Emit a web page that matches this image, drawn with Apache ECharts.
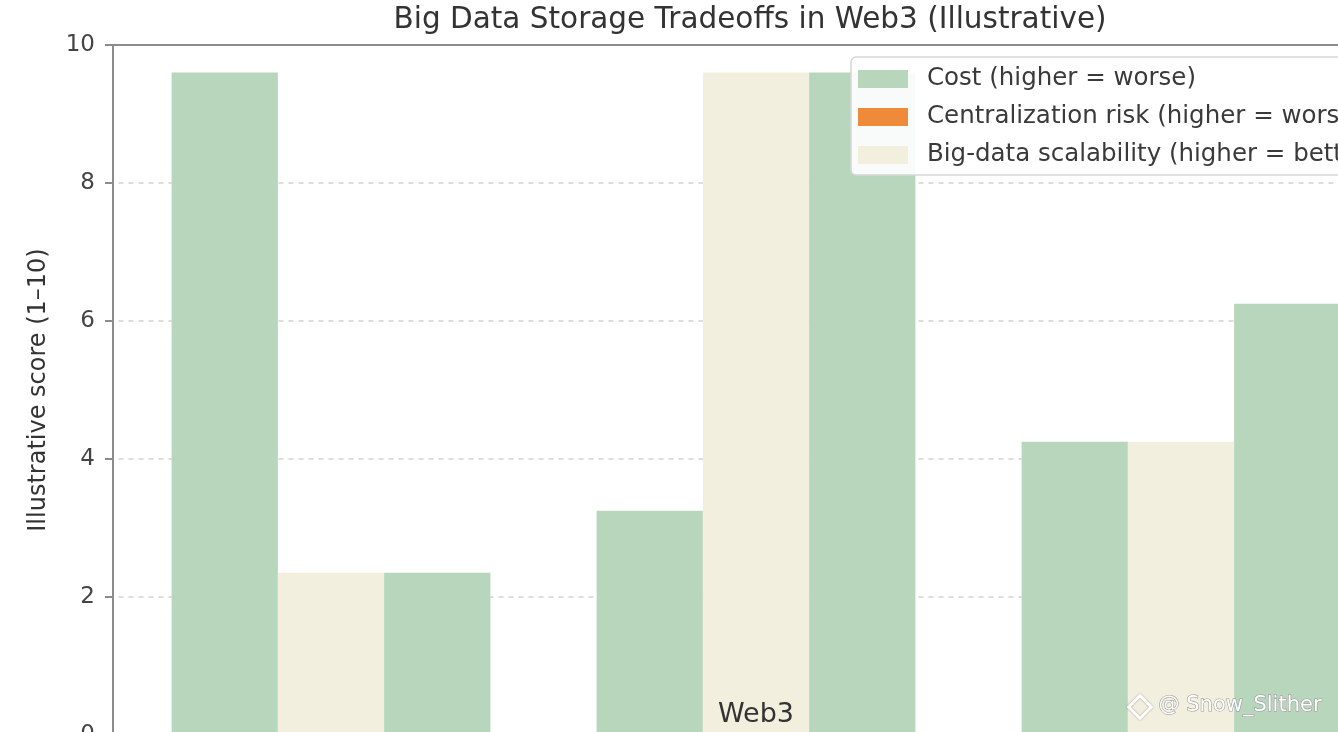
<!DOCTYPE html>
<html>
<head>
<meta charset="utf-8">
<script src="https://cdn.jsdelivr.net/npm/echarts@6/dist/echarts.min.js"></script>
<style>html,body{margin:0;padding:0;background:#fff;}#c{width:1338px;height:732px;}</style>
</head>
<body>
<div id="c"></div>
<script>
var categories = ['', 'Web3', ''];
var seriesNames = ['Cost (higher = worse)', 'Centralization risk (higher = worse)', 'Big-data scalability (higher = better)'];
var costValues = [9.6, 3.25, 4.25];
var centralizationValues = [2.35, 9.6, 4.25];
var scalabilityValues = [2.35, 9.6, 6.25];
var yTicks = [0, 2, 4, 6, 8, 10];

var GREEN = '#b7d6bc', CREAM = '#f3efdf', ORANGE = '#ee8a3a';
var FONT = 'DejaVu Sans';
var chart = echarts.init(document.getElementById('c'), null, {renderer: 'canvas'});
chart.setOption({
  backgroundColor: '#fff',
  animation: false,
  title: {
    text: 'Big Data Storage Tradeoffs in Web3 (Illustrative)',
    left: 745, top: 0, textAlign: 'center',
    textStyle: {fontFamily: FONT, fontSize: 29.5, fontWeight: 'normal', color: '#333'}
  },
  legend: {
    left: 851, top: 57, orient: 'vertical',
    padding: [9, 10, 7, 7],
    itemWidth: 50, itemHeight: 18, itemGap: 12, icon: 'rect',
    backgroundColor: 'rgba(255,255,255,0.9)', borderColor: '#d6d6d6', borderWidth: 1.5, borderRadius: 5,
    textStyle: {fontFamily: FONT, fontSize: 24.5, color: '#3a3a3a', lineHeight: 26, padding: [0, 0, 0, 14]},
    data: [
      {name: seriesNames[0], itemStyle: {color: GREEN}},
      {name: seriesNames[1], itemStyle: {color: ORANGE}},
      {name: seriesNames[2], itemStyle: {color: CREAM}}
    ]
  },
  grid: {left: 118.5, top: 45, width: 1275, bottom: -3, containLabel: false, outerBoundsMode: 'none'},
  xAxis: {
    type: 'category', data: categories,
    axisLine: {show: false}, axisTick: {show: false},
    axisLabel: {show: true, inside: true, interval: 0, hideOverlap: false, margin: 7, fontFamily: FONT, fontSize: 27, color: '#333'},
    splitLine: {show: false}, z: 10
  },
  yAxis: {
    type: 'value', min: yTicks[0], max: yTicks[yTicks.length - 1], interval: 2,
    offset: 5.5,
    name: 'Illustrative score (1\u201310)', nameLocation: 'middle', nameGap: 62, nameRotate: 90,
    nameTextStyle: {fontFamily: FONT, fontSize: 24, color: '#333'},
    axisLine: {show: true, lineStyle: {color: '#8c8c8c', width: 2}},
    axisTick: {show: true, length: 8, lineStyle: {color: '#8c8c8c', width: 2}},
    axisLabel: {fontFamily: FONT, fontSize: 23, color: '#444', margin: 18},
    splitLine: {show: true, lineStyle: {color: '#d2d2d2', type: [5, 5], width: 1.5}}
  },
  series: [
    {name: seriesNames[0], type: 'bar', data: costValues, itemStyle: {color: GREEN}, barGap: '0%', barCategoryGap: '25%'},
    {name: seriesNames[1], type: 'bar', data: centralizationValues, itemStyle: {color: CREAM}},
    {name: seriesNames[2], type: 'bar', data: scalabilityValues, itemStyle: {color: GREEN}}
  ],
  graphic: [
    {type: 'line', shape: {x1: 113, y1: 45, x2: 1338, y2: 45}, style: {stroke: '#8c8c8c', lineWidth: 2}, z: 10},
    {type: 'text', left: 1158, top: 694, z: 20,
     style: {text: '@ Snow_Slither', font: '21px "DejaVu Sans"', fill: '#ffffff', stroke: '#9a9a9a', lineWidth: 1.2}},
    {type: 'rect', shape: {x: -8, y: -8, width: 16, height: 16}, x: 1140, y: 707, rotation: Math.PI / 4, z: 20,
     style: {fill: 'none', stroke: '#ffffff', lineWidth: 3, shadowColor: 'rgba(0,0,0,0.35)', shadowBlur: 2}}
  ]
});
</script>
</body>
</html>
